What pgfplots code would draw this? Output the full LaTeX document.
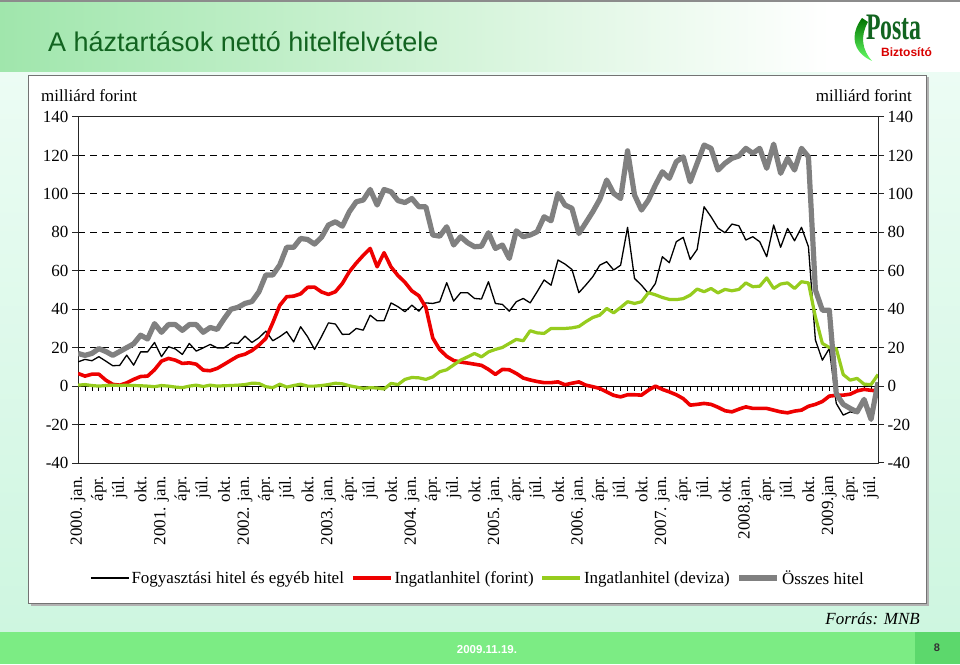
\documentclass[border=0pt]{standalone}
\usepackage{pgfplots}
\pgfplotsset{compat=1.18}
\usepackage{pgfplotstable}
\usepackage{fontspec}
\setmainfont{Liberation Serif}
\newfontfamily\sansf{Liberation Sans}

\definecolor{titlegreen}{RGB}{18,100,32}
\definecolor{hdrgreen}{RGB}{160,230,172}
\definecolor{footgreen}{RGB}{124,236,132}
\definecolor{pagegreen}{RGB}{92,216,108}
\definecolor{mintA}{RGB}{236,252,244}
\definecolor{mintB}{RGB}{206,246,224}
\definecolor{serred}{RGB}{238,0,0}
\definecolor{sergreen}{RGB}{150,204,30}
\definecolor{sergray}{RGB}{128,128,128}

\pgfplotstableread{
i fogy ingf ingd ossz
0 12.6 6.6 0.5 17
1 13.9 5.2 0.8 16
2 13.2 6.2 0.3 17
3 15.3 6.2 0 19.5
4 13 3.1 0.3 18
5 10.6 0.9 0.5 16
6 10.8 0.5 0.3 18
7 16.1 1.7 0.5 20
8 10.9 3.5 0.3 22
9 17.8 5 0.2 26.5
10 17.8 5.2 0 24.5
11 22.7 8.5 -0.3 32.5
12 15.3 13 0.3 28
13 20.5 14.4 0 32
14 19.3 13.5 -0.5 32
15 16.5 11.8 -0.8 29
16 22.2 12.1 0 32
17 18.2 11.4 0.5 32
18 19.9 8.3 -0.2 28
19 21.7 8 0.5 30.5
20 19.9 9.2 0 29.5
21 19.9 11.3 0.2 35
22 22.5 13.5 0.3 40
23 22.2 15.6 0.5 41
24 26 16.6 0.8 43
25 22.7 18.5 1.5 44
26 25.1 21.3 1.4 49
27 28.6 24.8 -0.3 57.8
28 23.6 33 -0.8 57.8
29 25.7 42 1 63
30 28.3 46.5 -0.5 72.2
31 23 46.8 0.3 72.2
32 30.9 48 1 76.8
33 25.7 51.4 0 76.3
34 19.1 51.5 0 73.9
35 25.7 49 0.3 77.4
36 32.9 47.7 0.8 83.8
37 32.3 49.1 1.5 85.5
38 26.9 53.4 1.2 83.2
39 27 59.5 0.2 90.7
40 30 64 -0.5 95.9
41 29.1 68 -1.2 96.8
42 36.9 71.6 -0.8 102.3
43 34 62.1 -1 94.2
44 34 69.4 -1.5 102.3
45 43.3 62 1.4 101.1
46 41.3 57.5 0.8 96.5
47 38.7 54 3.5 95.5
48 42.1 49.5 4.5 97.6
49 39 47 4.3 93.3
50 43.3 41 3.5 93.3
51 43 25 4.8 78.6
52 43.9 19 7.5 78
53 53.8 15.5 8.5 82.9
54 44.2 13.3 11 73.4
55 48.6 12.5 13.5 77.7
56 48.6 12 15.2 74.6
57 45.6 11.4 17 72.5
58 45.3 10.8 15.2 72.8
59 54.3 8.7 17.8 79.8
60 43 6.1 19.1 71.6
61 42.5 8.7 20.1 73.4
62 39 8.5 22.2 66.4
63 43.9 6.6 24.3 80.8
64 45.6 4.2 23.6 77.7
65 43.3 3.2 28.8 78.6
66 49.1 2.4 27.7 80.3
67 55.2 1.8 27.4 88.1
68 52.5 1.8 30 86
69 65.6 2.2 30 100.2
70 63.5 0.7 30 94.2
71 60.7 1.5 30.3 92.5
72 48.6 2.2 31 79.4
73 52.6 0.5 33.5 85
74 56.9 -0.3 35.7 90.7
75 62.9 -1.2 36.9 97.1
76 64.7 -3 40.4 107.2
77 60.4 -4.8 38.1 100.3
78 62.9 -5.6 40.9 97.6
79 82.6 -4.5 43.9 122.4
80 56 -4.5 43 99.4
81 52.5 -4.7 43.9 91.6
82 48.2 -2.1 48.6 96.8
83 53.4 0 47.5 104.6
84 67.3 -1.7 46.1 111.5
85 64.2 -3 45.1 108.1
86 75.1 -4.5 45 116.7
87 77.4 -6.5 45.5 119.3
88 65.9 -9.9 47.3 106.3
89 71.1 -9.5 50.5 115.9
90 93.3 -9 49.1 125.4
91 88.1 -9.5 50.8 123.7
92 82.2 -11 48.5 112.4
93 79.8 -12.8 50.3 115.9
94 84.3 -13.4 49.6 118.5
95 83.4 -12 50.3 119.7
96 76 -10.8 53.7 123.7
97 77.7 -11.6 51.7 121.1
98 75.1 -11.6 52 123.7
99 67.3 -11.6 56.3 113.3
100 83.8 -12.5 50.8 125.9
101 72.2 -13.4 53.1 110.7
102 82 -13.9 53.7 118.5
103 75.6 -13 50.8 112.4
104 82.6 -12.5 54.3 123.7
105 72.5 -10.5 53.7 119.3
106 24 -9.5 36 50
107 13.5 -8 22.2 39.5
108 19.6 -5.2 20.1 39.5
109 -9 -4.8 19.5 -4
110 -15.1 -4.7 6 -9.5
111 -13.4 -4.2 3.1 -11.6
112 -14.2 -2.5 4 -13.4
113 -9 -1.7 1 -6.9
114 -17.7 -2.2 0.8 -17.3
115 1.4 -2.5 6 2
}\hitel

\begin{document}
\begin{tikzpicture}[x=1pt,y=1pt]
\useasboundingbox (0,0) rectangle (960,664);
% body background
\shade[top color=mintA, bottom color=mintB] (0,32) rectangle (960,592);
% header
\fill[white] (0,592) rectangle (960,664);
\shade[left color=hdrgreen, right color=white] (0,592) rectangle (830,664);
\draw[black!45, line width=1.5pt] (0,663.2) -- (960,663.2);
% footer
\fill[footgreen] (0,0) rectangle (960,32);
\fill[pagegreen] (915,0) rectangle (960,32);
\node[text=white, font=\sansf\bfseries\fontsize{11.5}{13}\selectfont] at (487,14) {2009.11.19.};
\node[text=black!80, font=\sansf\bfseries\fontsize{11}{13}\selectfont] at (937,16) {8};
% title
\node[anchor=base west, inner sep=0pt, text=titlegreen, font=\sansf\fontsize{27}{30}\selectfont] at (48,612) {A háztartások nettó hitelfelvétele};
% logo
\shade[top color=green!45!black, bottom color=green!60!white]
  (862,646) .. controls (850,630) and (852,612) .. (872,603)
  .. controls (862,614) and (860,628) .. (868,642) -- cycle;
\node[anchor=base west, inner sep=0pt, xscale=0.7, yscale=1.1, text=titlegreen, font=\bfseries\fontsize{34}{36}\selectfont] at (866,624) {Posta};
\node[anchor=base west, inner sep=0pt, text=red!85!black, font=\sansf\bfseries\fontsize{12}{14}\selectfont] at (881,607) {Biztosító};
% chart box
\fill[black!30] (30.5,58.5) rectangle (928.5,586.5);
\filldraw[fill=white, draw=black!55, line width=0.8pt] (28,61) rectangle (926,589);
% unit labels
\node[anchor=base west, inner sep=0pt, font=\fontsize{17}{20}\selectfont] at (41,562) {milliárd forint};
\node[anchor=base east, inner sep=0pt, font=\fontsize{17}{20}\selectfont] at (912,562) {milliárd forint};
% source
\node[anchor=base east, inner sep=0pt, font=\itshape\fontsize{17}{20}\selectfont] at (920,40) {Forrás: MNB};

\begin{axis}[
  at={(78pt,201pt)}, anchor=south west,
  scale only axis, width=800pt, height=346pt,
  xmin=0, xmax=115, ymin=-40, ymax=140,
  ytick={-40,-20,0,20,40,60,80,100,120,140},
  yticklabels={-40,-20,0,20,40,60,80,100,120,140},
  ytick pos=left,
  tick align=outside, major tick length=6pt,
  ymajorgrids,
  major grid style={black, line width=1pt, dash pattern=on 7pt off 5pt},
  xtick={0,3,...,114},
  xticklabels={2000. jan.,ápr.,júl.,okt.,2001. jan.,ápr.,júl.,okt.,2002. jan.,ápr.,júl.,okt.,2003. jan.,ápr.,júl.,okt.,2004. jan.,ápr.,júl.,okt.,2005. jan.,ápr.,júl.,okt.,2006. jan.,ápr.,júl.,okt.,2007. jan.,ápr.,júl.,okt.,2008.jan.,ápr.,júl.,okt.,2009.jan,ápr.,júl.},
  x tick label style={rotate=90, anchor=east, font=\fontsize{17}{20}\selectfont, inner sep=2pt},
  xticklabel shift=5pt,
  y tick label style={font=\fontsize{17}{20}\selectfont},
  major x tick style={draw=none},
  major y tick style={black!85, line width=1pt},
  axis line style={black!85, line width=1pt},
  legend columns=4,
  legend style={at={(axis description cs:0.5,-0.3324)}, anchor=center, draw=none, fill=none,
    font=\fontsize{17}{20}\selectfont, inner xsep=0pt,
    /tikz/every even column/.append style={column sep=5pt}},
  legend image code/.code={\draw[#1] (0pt,0pt) -- (38pt,0pt);},
  line join=round,
]
\draw[black, line width=1pt] (axis cs:0,0) -- (axis cs:115,0);
\pgfplotsinvokeforeach{1,...,114}{\draw[black, line width=0.8pt] (axis cs:#1,0) -- ++(0pt,-4.5pt);}
\addplot[black, line width=1.3pt] table[x=i, y=fogy] {\hitel};
\addlegendentry{Fogyasztási hitel és egyéb hitel}
\addplot[serred, line width=3.6pt] table[x=i, y=ingf] {\hitel};
\addlegendentry{Ingatlanhitel (forint)}
\addplot[sergreen, line width=3.2pt] table[x=i, y=ingd] {\hitel};
\addlegendentry{Ingatlanhitel (deviza)}
\addplot[sergray, line width=5.2pt] table[x=i, y=ossz] {\hitel};
\addlegendentry{Összes hitel}
\end{axis}

\begin{axis}[
  at={(78pt,201pt)}, anchor=south west,
  scale only axis, width=800pt, height=346pt,
  xmin=0, xmax=115, ymin=-40, ymax=140,
  hide x axis, axis y line*=right,
  ytick={-40,-20,0,20,40,60,80,100,120,140},
  yticklabels={-40,-20,0,20,40,60,80,100,120,140},
  tick align=outside, major tick length=6pt,
  y tick label style={font=\fontsize{17}{20}\selectfont},
  major y tick style={black!85, line width=1pt},
  axis line style={black!85, line width=1pt},
]
\addplot[draw=none] coordinates {(0,0)};
\end{axis}
\end{tikzpicture}
\end{document}
